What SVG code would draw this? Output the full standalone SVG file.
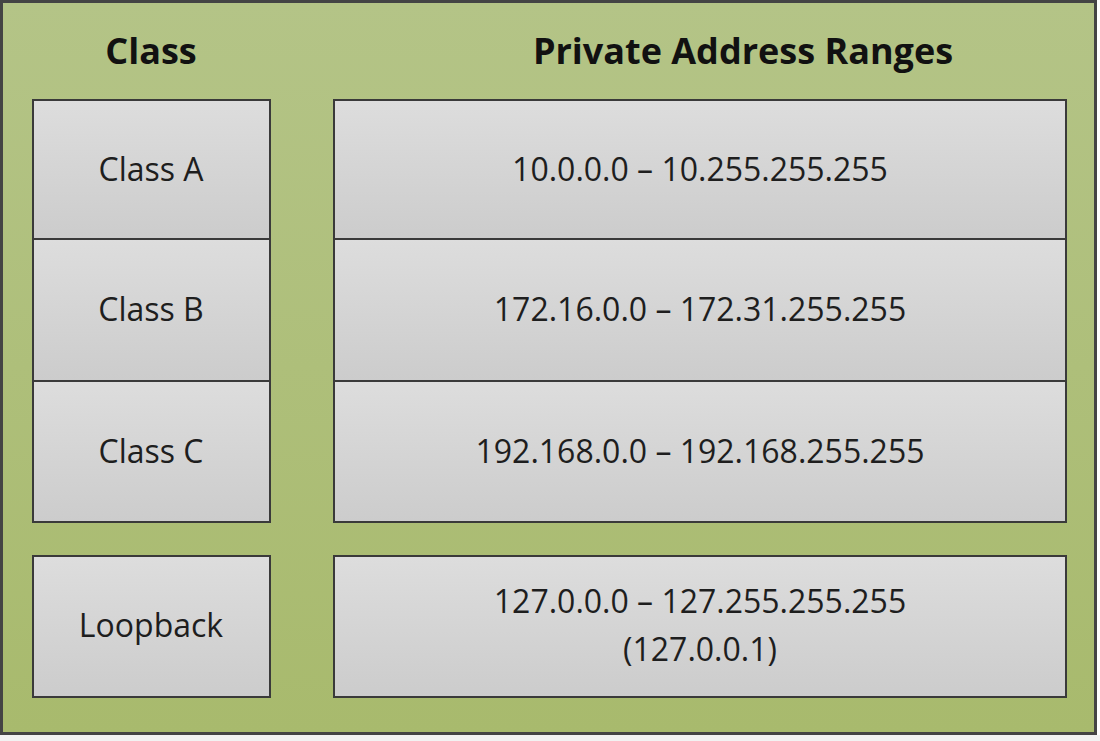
<svg xmlns="http://www.w3.org/2000/svg" width="1100" height="741" viewBox="0 0 1100 741">
<defs>
<linearGradient id="bg" x1="0" y1="0" x2="0" y2="1"><stop offset="0" stop-color="#b4c487"/><stop offset="1" stop-color="#a8ba6d"/></linearGradient>
<linearGradient id="bx" x1="0" y1="0" x2="0" y2="1"><stop offset="0" stop-color="#dddddd"/><stop offset="1" stop-color="#cccccc"/></linearGradient>
<style>
.b{fill:url(#bx);stroke:#3a3a3a;stroke-width:2}
.t{font-family:"Open Sans","Liberation Sans",sans-serif;font-size:32px;fill:#1e1e1e;text-anchor:middle}
.h{font-family:"Open Sans","Liberation Sans",sans-serif;font-size:36px;font-weight:bold;fill:#111;text-anchor:middle}
</style>
</defs>
<rect x="1.5" y="1.5" width="1094" height="732" fill="url(#bg)" stroke="#444" stroke-width="3"/>
<rect x="0" y="735" width="1100" height="6" fill="#f2f2f2"/>
<text class="h" x="151" y="64">Class</text>
<text class="h" x="743" y="64">Private Address Ranges</text>
<g id="classA"><rect class="b" x="33" y="100" width="237" height="139"/><text class="t" x="151" y="181">Class A</text></g>
<g id="classB"><rect class="b" x="33" y="239" width="237" height="142"/><text class="t" x="151" y="321">Class B</text></g>
<g id="classC"><rect class="b" x="33" y="381" width="237" height="141"/><text class="t" x="151" y="463">Class C</text></g>
<g id="loop"><rect class="b" x="33" y="556" width="237" height="141"/><text class="t" x="151" y="637">Loopback</text></g>
<g id="rangeA"><rect class="b" x="334" y="100" width="732" height="139"/><text class="t" x="700" y="181">10.0.0.0 – 10.255.255.255</text></g>
<g id="rangeB"><rect class="b" x="334" y="239" width="732" height="142"/><text class="t" x="700" y="321">172.16.0.0 – 172.31.255.255</text></g>
<g id="rangeC"><rect class="b" x="334" y="381" width="732" height="141"/><text class="t" x="700" y="463">192.168.0.0 – 192.168.255.255</text></g>
<g id="rangeL"><rect class="b" x="334" y="556" width="732" height="141"/><text class="t" x="700" y="613">127.0.0.0 – 127.255.255.255</text><text class="t" x="700" y="661">(127.0.0.1)</text></g>
<g id="connectors"/>
</svg>
